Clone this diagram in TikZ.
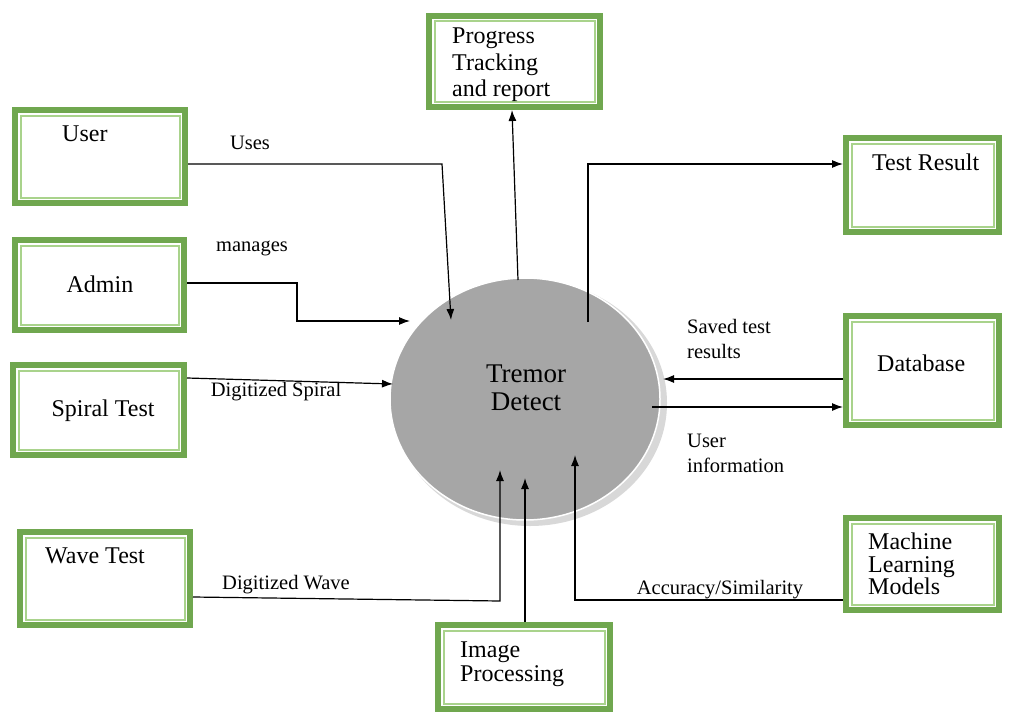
\documentclass[tikz,border=0pt]{standalone}
\usepackage{fontspec}
\setmainfont{Liberation Serif}
\usetikzlibrary{arrows.meta,shapes.geometric,calc}
\definecolor{outergreen}{HTML}{70A74F}
\definecolor{innergreen}{HTML}{A9D38C}
\definecolor{ellgray}{HTML}{A6A6A6}
\definecolor{shadowgray}{HTML}{D8D8D8}
\begin{document}
\begin{tikzpicture}[x=1pt,y=-1pt,
  box/.style={rectangle, draw=outergreen, line width=6pt, fill=white, inner sep=0pt},
  inset/.style={draw=innergreen, line width=2pt},
  arr/.style={line width=1.2pt, -{Latex[length=11pt,width=8pt]}},
  lbl/.style={font=\fontsize{20.5}{25}\selectfont, inner sep=0pt, align=left},
  boxtext/.style={font=\fontsize{24}{23}\selectfont, inner sep=0pt, align=left}]
\useasboundingbox[fill=white] (0,0) rectangle (1009,717);

% boxes
\node[box, minimum width=170pt, minimum height=93pt]  (user)  at (100,156.5) {};
\node[box, minimum width=169pt, minimum height=90pt]  (admin) at (99.5,285) {};
\node[box, minimum width=171pt, minimum height=90pt]  (spiral) at (98.5,410) {};
\node[box, minimum width=170pt, minimum height=93pt]  (wave)  at (105,578.5) {};
\node[box, minimum width=171pt, minimum height=91pt]  (prog)  at (514.5,61.5) {};
\node[box, minimum width=153pt, minimum height=94pt]  (tr)    at (922.5,185) {};
\node[box, minimum width=153pt, minimum height=109pt] (db)    at (922.5,370.5) {};
\node[box, minimum width=153pt, minimum height=92pt]  (ml)    at (922.5,564) {};
\node[box, minimum width=172pt, minimum height=84pt]  (img)   at (524,667) {};
\foreach \n in {user,admin,spiral,wave,prog,tr,db,ml,img}
  \draw[inset] ([shift={(8.5pt,-8.5pt)}]\n.north west) rectangle ([shift={(-8.5pt,8.5pt)}]\n.south east);

% box texts
\node[boxtext, anchor=west] (usert) at (62,134) {User};
\node[boxtext] (admint) at (100,284) {Admin};
\node[boxtext] (spiralt) at (103,411) {Spiral Test};
\node[boxtext, anchor=west] (wavet) at (45,556) {Wave Test};
\node[boxtext, anchor=north west, font=\fontsize{24}{26.5}\selectfont] (progt) at (452,28) {Progress\\Tracking\\and report};
\node[boxtext, anchor=west] (trt) at (872,162) {Test Result};
\node[boxtext, anchor=west] (dbt) at (877,363) {Database};
\node[boxtext, anchor=north west, font=\fontsize{24}{22.5}\selectfont] (mlt) at (868,533) {Machine\\Learning\\Models};
\node[boxtext, anchor=north west, font=\fontsize{24}{23.5}\selectfont] (imgt) at (460,642) {Image\\Processing};

% central process
\fill[shadowgray] (530,403) ellipse (137 and 123);
\node[ellipse, fill=ellgray, draw=white, line width=1.5pt, minimum width=270pt, minimum height=242pt, inner sep=0pt] (td) at (525,399) {};
\node[font=\fontsize{27}{28}\selectfont, align=center, inner sep=0pt] (tdt) at (526,388) {Tremor\\Detect};

% arrow tip coordinates inside the ellipse
\coordinate (tUser) at (451,320);
\coordinate (tAdmin) at (410,321);
\coordinate (tSpiral) at (393,384);
\coordinate (tDb) at (663,379);
\coordinate (sDb) at (652,407);
\coordinate (sTr) at (588,322);
\coordinate (sProg) at (518,280);
\coordinate (tWave) at (500,470);
\coordinate (tImg) at (525,478);
\coordinate (tMl) at (575,455);

% connectors
\draw[arr] ([yshift=-7.5pt]user.east) -- (442,164) -- (tUser);
\draw[arr] ([yshift=2pt]admin.east) -- (297,283) -- (297,321) -- (tAdmin);
\draw[arr] ([yshift=32pt]spiral.east) -- (tSpiral);
\draw[arr] ([yshift=-8.5pt]db.west) -- (tDb);
\draw[arr] (sDb) -- ([yshift=-36.5pt]db.west);
\draw[arr] (sTr) -- (588,164) -- ([yshift=21pt]tr.west);
\draw[arr] (sProg) -- ([xshift=-2.5pt]prog.south);
\draw[arr] ([yshift=-18.5pt]wave.east) -- (500,601) -- (tWave);
\draw[arr] ([xshift=1pt]img.north) -- (tImg);
\draw[arr] ([yshift=-36pt]ml.west) -- (575,600) -- (tMl);

% connector labels
\node[lbl] (luses) at (250,143) {Uses};
\node[lbl] (lman) at (252,248) {manages};
\node[lbl] (lspiral) at (276,392) {Digitized Spiral};
\node[lbl] (lwave) at (286,585) {Digitized Wave};
\node[lbl] (lacc) at (720,590) {Accuracy/Similarity};
\node[lbl, anchor=west] (lsaved) at (687,339) {Saved test\\results};
\node[lbl, anchor=west] (linfo) at (687,453) {User\\information};
\end{tikzpicture}
\end{document}
